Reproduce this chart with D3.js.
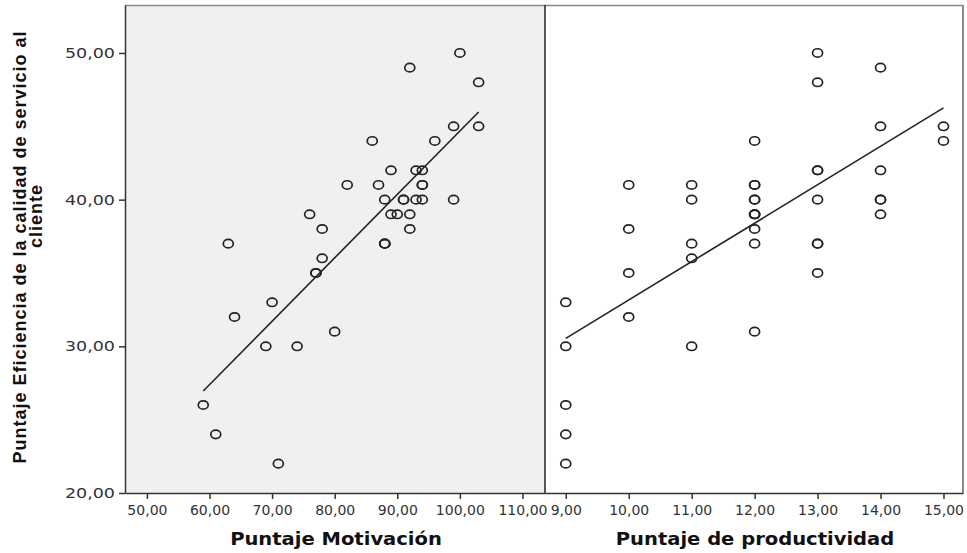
<!DOCTYPE html>
<html>
<head>
<meta charset="utf-8">
<script src="https://cdn.jsdelivr.net/npm/d3@7"></script>
<style>
  body { margin: 0; background: #fff; }
  svg { display: block; }
</style>
</head>
<body>
<svg width="967" height="553"></svg>
<script>
// y = Puntaje Eficiencia (same for both panels)
var motivacion = [100, 92, 103, 99, 103, 86, 96, 89, 93, 94, 82, 87, 94, 94,
  88, 91, 91, 93, 94, 99, 76, 89, 90, 92, 78, 92, 63, 88, 88, 88, 78, 77, 77,
  70, 64, 80, 69, 74, 59, 61, 71];
var eficienciaL = [50, 49, 48, 45, 45, 44, 44, 42, 42, 42, 41, 41, 41, 41,
  40, 40, 40, 40, 40, 40, 39, 39, 39, 39, 38, 38, 37, 37, 37, 37, 36, 35, 35,
  33, 32, 31, 30, 30, 26, 24, 22];

var productividad = [9, 9, 9, 9, 9, 10, 10, 10, 10, 11, 11, 11, 11, 11,
  12, 12, 12, 12, 12, 12, 12, 12, 12, 12, 12,
  13, 13, 13, 13, 13, 13, 13, 13,
  14, 14, 14, 14, 14, 14, 15, 15];
var eficienciaR = [33, 30, 26, 24, 22, 41, 38, 35, 32, 41, 40, 37, 36, 30,
  44, 41, 41, 40, 40, 39, 39, 39, 38, 37, 31,
  50, 48, 42, 42, 40, 37, 37, 35,
  49, 45, 42, 40, 40, 39, 45, 44];

var ticksL = [50, 60, 70, 80, 90, 100, 110];
var ticksR = [9, 10, 11, 12, 13, 14, 15];
var ticksY = [20, 30, 40, 50];

var fmt = d => d3.format('.2f')(d).replace('.', ',');

var svg = d3.select('svg');
var yTop = 5, yBottom = 493;
var xL = d3.scaleLinear().domain([46.5, 113.6]).range([125, 545]);
var xR = d3.scaleLinear().domain([8.67, 15.31]).range([545, 963]);
var y = d3.scaleLinear().domain([20, 53.27]).range([yBottom, yTop]);

// panel backgrounds
svg.append('rect').attr('x', 125).attr('y', yTop).attr('width', 420).attr('height', yBottom - yTop)
  .style('fill', '#f0f0f0');
svg.append('rect').attr('x', 545).attr('y', yTop).attr('width', 418).attr('height', yBottom - yTop)
  .style('fill', '#fff');
// frame
svg.append('line').attr('x1', 125).attr('x2', 963).attr('y1', yTop + 0.5).attr('y2', yTop + 0.5)
  .style('stroke', '#888').style('stroke-width', 1.5);
svg.append('line').attr('x1', 963).attr('x2', 963).attr('y1', yTop).attr('y2', yBottom)
  .style('stroke', '#888').style('stroke-width', 2);
svg.append('line').attr('x1', 545).attr('x2', 545).attr('y1', yTop).attr('y2', yBottom)
  .style('stroke', '#222').style('stroke-width', 1.5);

function styleAxis(g) {
  g.selectAll('.domain').style('stroke', '#333').style('stroke-width', 1.5);
  g.selectAll('.tick line').style('stroke', '#333').style('stroke-width', 1.5);
  g.selectAll('.tick text').style('fill', '#333')
    .style('font-family', '"DejaVu Sans", Verdana, sans-serif').style('font-size', '14px');
}

var gxL = svg.append('g').attr('transform', `translate(0, ${yBottom})`)
  .call(d3.axisBottom(xL).tickValues(ticksL).tickFormat(fmt).tickSize(6).tickPadding(6).tickSizeOuter(0));
styleAxis(gxL);
var gxR = svg.append('g').attr('transform', `translate(0, ${yBottom})`)
  .call(d3.axisBottom(xR).tickValues(ticksR).tickFormat(fmt).tickSize(6).tickPadding(6).tickSizeOuter(0));
styleAxis(gxR);
var gy = svg.append('g').attr('transform', 'translate(125, 0)')
  .call(d3.axisLeft(y).tickValues(ticksY).tickFormat(fmt).tickSize(6).tickPadding(4).tickSizeOuter(0));
styleAxis(gy);
// y labels are wider in the original export
gy.selectAll('.tick text').attr('x', -10 / 1.25).attr('transform', 'scale(1.25, 1)');

function panel(xs, ys, xScale) {
  var pts = xs.map((d, i) => ({x: d, y: ys[i]}));
  // least squares fit line
  var mx = d3.mean(xs), my = d3.mean(ys);
  var b = d3.sum(pts, p => (p.x - mx) * (p.y - my)) / d3.sum(pts, p => (p.x - mx) * (p.x - mx));
  var a = my - b * mx;
  var ext = d3.extent(xs);
  svg.append('line')
    .attr('x1', xScale(ext[0])).attr('y1', y(a + b * ext[0]))
    .attr('x2', xScale(ext[1])).attr('y2', y(a + b * ext[1]))
    .style('stroke', '#222').style('stroke-width', 1.6);

  svg.append('g').selectAll('ellipse')
    .data(pts)
    .enter()
    .append('ellipse')
    .attr('cx', d => xScale(d.x))
    .attr('cy', d => y(d.y))
    .attr('rx', 5)
    .attr('ry', 4.2)
    .style('fill', 'none')
    .style('stroke', '#222')
    .style('stroke-width', 1.7);
}
panel(motivacion, eficienciaL, xL);
panel(productividad, eficienciaR, xR);

// axis titles (slightly stretched like the original export)
svg.append('g').attr('transform', 'translate(336, 545) scale(1.15, 1)')
  .append('text').attr('text-anchor', 'middle')
  .style('font-family', '"DejaVu Sans", Verdana, sans-serif').style('font-weight', 'bold')
  .style('font-size', '17px').style('fill', '#111').text('Puntaje Motivación');
svg.append('g').attr('transform', 'translate(755, 545) scale(1.15, 1)')
  .append('text').attr('text-anchor', 'middle')
  .style('font-family', '"DejaVu Sans", Verdana, sans-serif').style('font-weight', 'bold')
  .style('font-size', '17px').style('fill', '#111').text('Puntaje de productividad');

var yt = svg.append('text').attr('transform', 'translate(26, 247) rotate(-90)')
  .attr('text-anchor', 'middle')
  .style('font-family', '"Liberation Sans", Arial, sans-serif').style('font-weight', 'bold')
  .style('font-size', '18px').style('letter-spacing', '1px').style('fill', '#111');
yt.append('tspan').attr('x', 0).attr('y', 0).text('Puntaje Eficiencia de la calidad de servicio al');
yt.append('tspan').attr('x', 31).attr('y', 16).text('cliente');
</script>
</body>
</html>
